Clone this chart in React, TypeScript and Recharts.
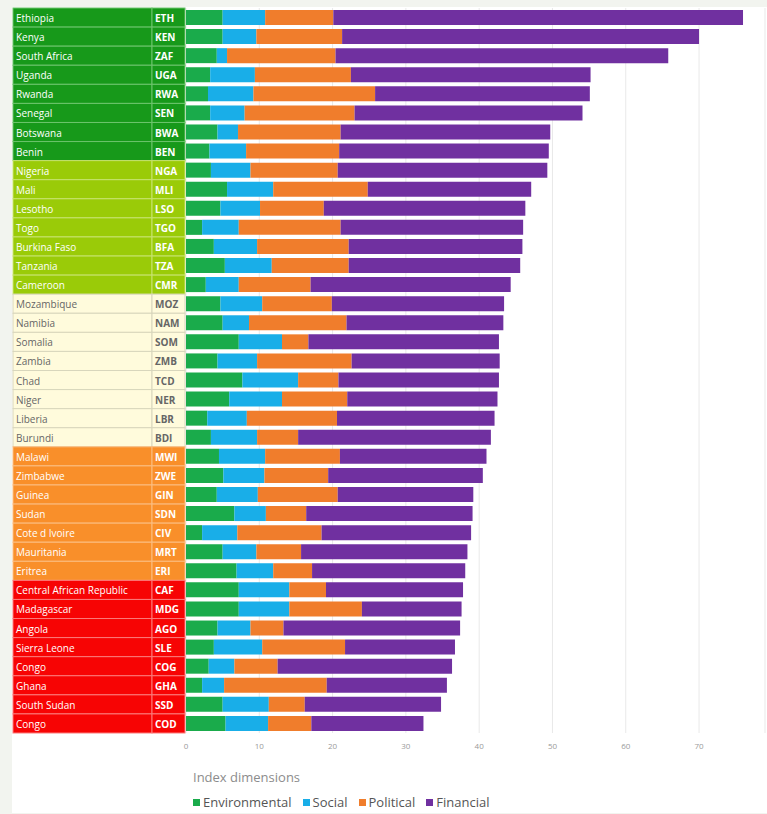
import React from "react";
import { BarChart, Bar, XAxis, YAxis, CartesianGrid } from "recharts";

const countries = [
  "Ethiopia", "Kenya", "South Africa", "Uganda", "Rwanda", "Senegal", "Botswana", "Benin",
  "Nigeria", "Mali", "Lesotho", "Togo", "Burkina Faso", "Tanzania", "Cameroon",
  "Mozambique", "Namibia", "Somalia", "Zambia", "Chad", "Niger", "Liberia", "Burundi",
  "Malawi", "Zimbabwe", "Guinea", "Sudan", "Cote d Ivoire", "Mauritania", "Eritrea",
  "Central African Republic", "Madagascar", "Angola", "Sierra Leone", "Congo", "Ghana", "South Sudan", " Congo",
];
const codes = [
  "ETH", "KEN", "ZAF", "UGA", "RWA", "SEN", "BWA", "BEN",
  "NGA", "MLI", "LSO", "TGO", "BFA", "TZA", "CMR",
  "MOZ", "NAM", "SOM", "ZMB", "TCD", "NER", "LBR", "BDI",
  "MWI", "ZWE", "GIN", "SDN", "CIV", "MRT", "ERI",
  "CAF", "MDG", "AGO", "SLE", "COG", "GHA", "SSD", "COD",
];
const tiers = [
  0, 0, 0, 0, 0, 0, 0, 0,
  1, 1, 1, 1, 1, 1, 1,
  2, 2, 2, 2, 2, 2, 2, 2,
  3, 3, 3, 3, 3, 3, 3,
  4, 4, 4, 4, 4, 4, 4, 4,
];
const environmental = [
  5.0, 5.0, 4.2, 3.3, 3.0, 3.3, 4.3, 3.2,
  3.4, 5.6, 4.7, 2.2, 3.8, 5.3, 2.7,
  4.7, 5.0, 7.2, 4.3, 7.7, 5.9, 2.9, 3.4,
  4.5, 5.1, 4.2, 6.6, 2.2, 5.0, 6.9,
  7.2, 7.2, 4.3, 3.8, 3.1, 2.2, 5.0, 5.4,
];
const social = [
  5.8, 4.6, 1.4, 6.1, 6.2, 4.7, 2.8, 5.0,
  5.4, 6.3, 5.4, 5.0, 5.9, 6.4, 4.5,
  5.7, 3.6, 5.9, 5.4, 7.6, 7.2, 5.4, 6.3,
  6.3, 5.6, 5.6, 4.3, 4.8, 4.6, 5.0,
  6.9, 6.9, 4.5, 6.6, 3.5, 3.0, 6.3, 5.8,
];
const political = [
  9.3, 11.7, 14.8, 13.1, 16.6, 15.0, 14.0, 12.7,
  11.9, 12.9, 8.7, 13.9, 12.5, 10.5, 9.8,
  9.5, 13.3, 3.6, 12.9, 5.5, 8.9, 12.3, 5.6,
  10.2, 8.7, 10.9, 5.5, 11.5, 6.1, 5.3,
  5.0, 9.9, 4.5, 11.3, 5.9, 14.0, 4.9, 5.9,
];
const financial = [
  55.9, 48.7, 45.4, 32.7, 29.3, 31.1, 28.6, 28.6,
  28.6, 22.3, 27.5, 24.9, 23.7, 23.4, 27.3,
  23.5, 21.4, 26.0, 20.2, 21.9, 20.5, 21.5, 26.3,
  20.0, 21.1, 18.5, 22.7, 20.4, 22.7, 20.9,
  18.7, 13.6, 24.1, 15.0, 23.8, 16.4, 18.6, 15.3,
];
const xTicks = [0, 10, 20, 30, 40, 50, 60, 70];

const seriesNames = ["Environmental", "Social", "Political", "Financial"];
const seriesColors = ["#1aab4b", "#19aee8", "#f07d2c", "#7030a0"];
const tierFill = ["#17991a", "#9acb08", "#fffbdc", "#f98f2a", "#f70404"];
const tierText = ["#ffffff", "#ffffff", "#666666", "#ffffff", "#ffffff"];
const tierLine = ["#6cc46c", "#c7e36e", "#d8d6bc", "#fbbd80", "#fb7a7a"];

const data = countries.map((name, i) => ({
  name,
  code: codes[i],
  tier: tiers[i],
  Environmental: environmental[i],
  Social: social[i],
  Political: political[i],
  Financial: financial[i],
}));

const W = 767;
const H = 814;
const M = { top: 8, right: 2, bottom: 56, left: 0 };
const X_AXIS_H = 25;
const PLOT_H = H - M.top - M.bottom - X_AXIS_H;
const BAND = PLOT_H / data.length;

const NAME_X = 13;
const CODE_X = 152;
const TABLE_END = 185;

function TableTick(props: any) {
  const { y, payload } = props;
  const idx = payload && payload.index != null ? payload.index : props.index;
  const row = data[idx];
  if (!row) return null;
  const t = row.tier;
  const top = y - BAND / 2;
  return (
    <g>
      <rect x={NAME_X} y={top} width={CODE_X - NAME_X} height={BAND} fill={tierFill[t]} stroke={tierLine[t]} strokeWidth={1} />
      <rect x={CODE_X} y={top} width={TABLE_END - CODE_X} height={BAND} fill={tierFill[t]} stroke={tierLine[t]} strokeWidth={1} />
      <text x={NAME_X + 3} y={y + 0.5} fontSize={10} fill={tierText[t]} dominantBaseline="central">
        {row.name}
      </text>
      <text x={CODE_X + 3} y={y + 0.5} fontSize={10} fontWeight={700} fill={tierText[t]} dominantBaseline="central">
        {row.code}
      </text>
    </g>
  );
}

export default function App() {
  return (
    <div
      style={{
        position: "absolute",
        left: 0,
        top: 0,
        width: W,
        height: H,
        background: "#f2f4ef",
        overflow: "hidden",
        fontFamily: "'Open Sans', sans-serif",
      }}
    >
      <div style={{ position: "absolute", left: 12, top: 7, right: 0, bottom: 1, background: "#ffffff" }} />
      <div style={{ position: "absolute", left: 0, top: 0 }}>
        <BarChart width={W} height={H} data={data} layout="vertical" margin={M} barSize={15}>
          <CartesianGrid horizontal={false} vertical={true} stroke="#e9e9e9" />
          <XAxis
            type="number"
            domain={[0, 79]}
            ticks={xTicks}
            allowDataOverflow
            axisLine={false}
            tickLine={false}
            height={X_AXIS_H}
            tick={{ fontSize: 8, fill: "#9a9a9a" }}
            tickMargin={4}
          />
          <YAxis
            type="category"
            dataKey="code"
            width={186}
            axisLine={false}
            tickLine={false}
            interval={0}
            tick={<TableTick />}
          />
          {seriesNames.map((s, i) => (
            <Bar key={s} dataKey={s} stackId="a" fill={seriesColors[i]} isAnimationActive={false} />
          ))}
        </BarChart>
      </div>
      <div style={{ position: "absolute", left: 193, top: 770, fontSize: 13, lineHeight: "14px", color: "#8c8c8c" }}>
        Index dimensions
      </div>
      <div
        style={{
          position: "absolute",
          left: 193,
          top: 795,
          display: "flex",
          alignItems: "center",
          fontSize: 13,
          lineHeight: "14px",
          color: "#555",
        }}
      >
        {seriesNames.map((s, i) => (
          <div key={s} style={{ display: "flex", alignItems: "center", marginRight: 11 }}>
            <span style={{ width: 7, height: 7, background: seriesColors[i], display: "inline-block", marginRight: 3 }} />
            <span>{s}</span>
          </div>
        ))}
      </div>
    </div>
  );
}
